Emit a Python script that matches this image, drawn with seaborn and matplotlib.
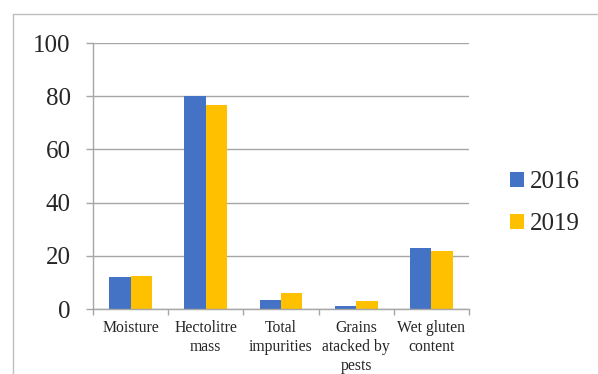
import matplotlib
matplotlib.use("Agg")
import matplotlib.pyplot as plt
from matplotlib.lines import Line2D
from matplotlib.patches import Patch
import seaborn as sns
import pandas as pd

categories = ["Moisture", "Hectolitre\nmass", "Total\nimpurities",
              "Grains\natacked by\npests", "Wet gluten\ncontent"]
years = ["2016", "2019"]
values_2016 = [12.1, 80.2, 3.3, 1.0, 23.0]
values_2019 = [12.4, 76.6, 6.1, 3.0, 21.8]
y_ticks = [0, 20, 40, 60, 80, 100]

colors = {"2016": "#4472C4", "2019": "#FFC000"}
grid_color = "#A6A6A6"

df = pd.DataFrame({
    "category": categories * 2,
    "year": [years[0]] * len(categories) + [years[1]] * len(categories),
    "value": values_2016 + values_2019,
})

sns.set_theme(style="white")
plt.rcParams["font.family"] = ["Liberation Serif", "DejaVu Serif"]

fig = plt.figure(figsize=(5.98, 3.74), dpi=100)
ax = fig.add_axes([93 / 598, 1 - 309 / 374, (469 - 93) / 598, (309 - 43) / 374])

sns.barplot(data=df, x="category", y="value", hue="year", palette=colors,
            width=0.57, saturation=1, ax=ax, legend=False, linewidth=0)

ax.set_ylim(0, 100)
ax.set_xlim(-0.5, len(categories) - 0.5)
ax.set_yticks(y_ticks)
ax.set_yticklabels([str(t) for t in y_ticks], fontsize=18)
ax.yaxis.grid(True, color=grid_color, linewidth=1)
ax.set_axisbelow(True)
ax.tick_params(axis="y", length=5, color=grid_color, width=1, pad=11, left=True)
ax.tick_params(axis="x", length=0, pad=8, labelsize=11.3)
ax.set_xticks(range(len(categories)))
ax.set_xticklabels(categories, linespacing=1.25)
ax.set_xticks([i - 0.5 for i in range(len(categories) + 1)], minor=True)
ax.tick_params(axis="x", which="minor", length=4, color=grid_color, width=1, bottom=True)
ax.set_xlabel("")
ax.set_ylabel("")

for side in ["top", "right"]:
    ax.spines[side].set_visible(False)
for side in ["left", "bottom"]:
    ax.spines[side].set_visible(True)
    ax.spines[side].set_color(grid_color)
    ax.spines[side].set_linewidth(1)

# outer chart frame (left and top edges)
fx = 13 / 598
fy = 1 - 14 / 374
fig.add_artist(Line2D([fx, fx], [0, fy], transform=fig.transFigure,
                      color="#BFBFBF", linewidth=1))
fig.add_artist(Line2D([fx, 1], [fy, fy], transform=fig.transFigure,
                      color="#BFBFBF", linewidth=1))

handles = [Patch(facecolor=colors[y], edgecolor="none") for y in years]
fig.legend(handles, years, loc="center left",
           bbox_to_anchor=(510 / 598, 1 - 203 / 374), frameon=False,
           fontsize=18, handlelength=0.55, handleheight=0.55,
           handletextpad=0.25, labelspacing=0.8, borderpad=0, borderaxespad=0)

fig.savefig("out.png", dpi=100)
